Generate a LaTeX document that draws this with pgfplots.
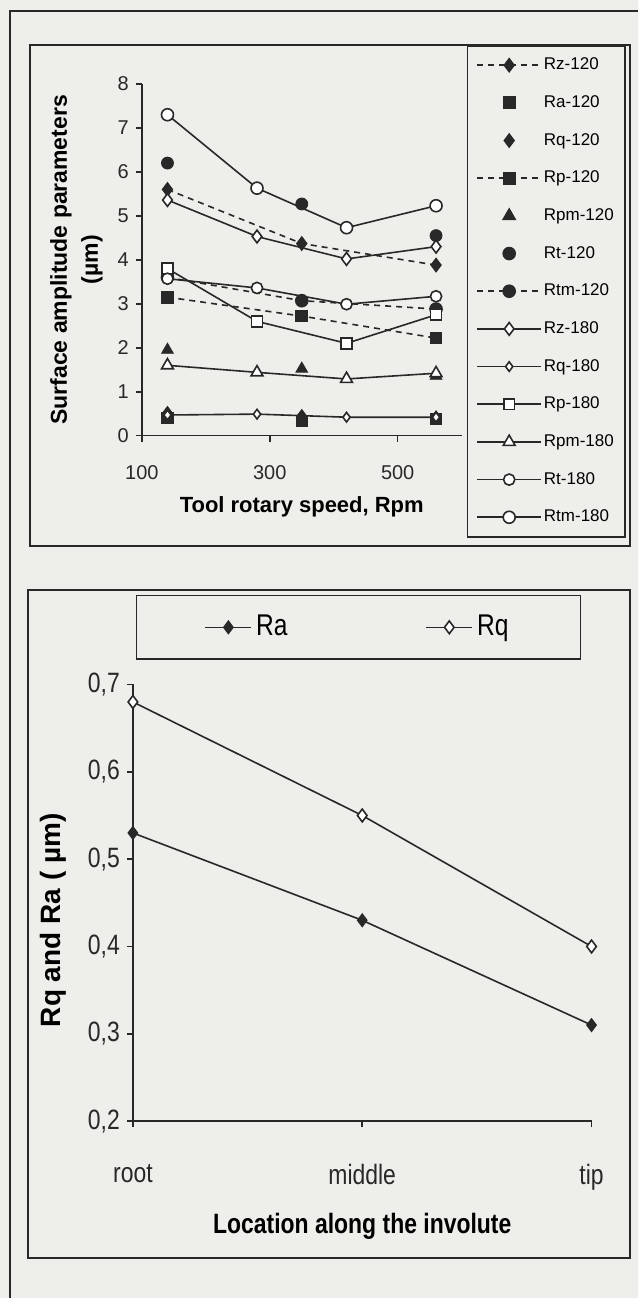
\documentclass[border=0pt]{standalone}
\usepackage{fontspec}
\setmainfont{Liberation Sans}
\newfontfamily\narrow[FakeStretch=0.82]{Liberation Sans}
\usepackage{pgfplots}
\pgfplotsset{compat=1.18}
\definecolor{paper}{RGB}{238,238,235}
\definecolor{ink}{RGB}{40,40,40}

% line styles of the two speed groups
\pgfplotsset{
  d120/.style={ink, line width=0.8pt, dash pattern=on 3pt off 2.5pt},
  s180/.style={ink, line width=0.8pt, solid},
}

\begin{document}
\begin{tikzpicture}
% paper and panel frames (1 px of the scan = 0.5pt)
\begin{scope}[x=0.5pt,y=-0.5pt]
\fill[paper] (0,0) rectangle (638,1299);
\draw[ink,line width=1pt] (10,1299) -- (10,11) -- (638,11);
\draw[ink,line width=1pt] (30,45) rectangle (630,546);
\draw[ink,line width=1pt] (28,590) rectangle (630,1259);
\end{scope}

% ---- top panel ----
\begin{axis}[
  at={(71pt,-218pt)}, anchor=south west,
  scale only axis, width=160pt, height=176pt,
  xmin=100, xmax=600, ymin=0, ymax=8,
  xtick={100,300,500}, ytick={0,1,2,3,4,5,6,7,8},
  axis x line=bottom, axis y line=left,
  axis line style={-, ink, line width=0.8pt},
  tick align=outside, major tick length=3pt,
  tick style={ink, line width=0.8pt},
  ticklabel style={font=\fontsize{10}{12}\selectfont, text=ink},
  xticklabel style={yshift=-8.5pt},
  /pgf/number format/assume math mode=true,
  xlabel={Tool rotary speed, Rpm},
  xlabel style={at={(axis description cs:0.5,0)}, anchor=center, yshift=-35.5pt,
    font=\bfseries\fontsize{11}{13}\selectfont},
  ylabel={Surface amplitude parameters\\(µm)},
  ylabel style={at={(axis description cs:-0.205,0.5)}, anchor=center, align=center,
    font=\bfseries\fontsize{11.5}{15.5}\selectfont},
  legend cell align=left,
  legend image code/.code={\draw[mark repeat=2,mark phase=2,#1]
    plot coordinates {(0pt,0pt) (16pt,0pt) (32pt,0pt)};},
  legend style={at={(axis description cs:1.0156,1.111)}, anchor=north west,
    draw=ink, line width=0.8pt, fill=none, font=\fontsize{8.5}{10}\selectfont,
    inner xsep=4.5pt, inner ysep=4.6pt, row sep=8.55pt,
    nodes={inner sep=1pt, text height=6.5pt, text depth=1.8pt}},
]
\addplot[d120, mark=diamond*, mark size=3.2pt, mark options={solid, fill=ink}]
  coordinates {(140,5.6) (350,4.37) (560,3.88)};
\addlegendentry{Rz-120}
\addplot[only marks, ink, mark=square*, mark size=2.8pt]
  coordinates {(140,0.4) (350,0.33) (560,0.38)};
\addlegendentry{Ra-120}
\addplot[only marks, ink, mark=diamond*, mark size=3.2pt]
  coordinates {(140,0.52) (350,0.45) (560,0.42)};
\addlegendentry{Rq-120}
\addplot[d120, mark=square*, mark size=2.8pt, mark options={solid, fill=ink}]
  coordinates {(140,3.15) (350,2.72) (560,2.22)};
\addlegendentry{Rp-120}
\addplot[only marks, ink, mark=triangle*, mark size=3.4pt]
  coordinates {(140,1.95) (350,1.52) (560,1.36)};
\addlegendentry{Rpm-120}
\addplot[only marks, ink, mark=*, mark size=3pt]
  coordinates {(140,6.2) (350,5.27) (560,4.55)};
\addlegendentry{Rt-120}
\addplot[d120, mark=*, mark size=3pt, mark options={solid, fill=ink}]
  coordinates {(140,3.6) (350,3.07) (560,2.88)};
\addlegendentry{Rtm-120}
\addplot[s180, mark=diamond*, mark size=3.2pt, mark options={fill=white}]
  coordinates {(140,5.36) (280,4.53) (420,4.02) (560,4.3)};
\addlegendentry{Rz-180}
\addplot[s180, mark=diamond*, mark size=2.4pt, mark options={fill=white}]
  coordinates {(140,0.47) (280,0.49) (420,0.42) (560,0.42)};
\addlegendentry{Rq-180}
\addplot[s180, mark=square*, mark size=2.7pt, mark options={fill=white}]
  coordinates {(140,3.8) (280,2.6) (420,2.1) (560,2.75)};
\addlegendentry{Rp-180}
\addplot[s180, mark=triangle*, mark size=3.4pt, mark options={fill=white}]
  coordinates {(140,1.6) (280,1.44) (420,1.29) (560,1.42)};
\addlegendentry{Rpm-180}
\addplot[s180, mark=*, mark size=2.8pt, mark options={fill=white}]
  coordinates {(140,3.57) (280,3.36) (420,2.99) (560,3.17)};
\addlegendentry{Rt-180}
\addplot[s180, mark=*, mark size=3pt, mark options={fill=white}]
  coordinates {(140,7.3) (280,5.63) (420,4.73) (560,5.23)};
\addlegendentry{Rtm-180}
\end{axis}

% ---- bottom panel ----
\begin{axis}[
  at={(66.5pt,-561pt)}, anchor=south west,
  scale only axis, width=229.5pt, height=218.5pt,
  xmin=0, xmax=2, ymin=0.2, ymax=0.7, clip=false,
  xtick={0,1,2}, xticklabels={root,middle,tip},
  ytick={0.2,0.3,0.4,0.5,0.6,0.7},
  axis x line=bottom, axis y line=left,
  axis line style={-, ink, line width=0.8pt},
  tick align=outside, major tick length=3pt,
  tick style={ink, line width=0.8pt},
  ticklabel style={font=\narrow\fontsize{14}{16}\selectfont, text=ink},
  xticklabel style={yshift=-15pt},
  /pgf/number format/assume math mode=true,
  /pgf/number format/fixed, /pgf/number format/fixed zerofill,
  /pgf/number format/precision=1, /pgf/number format/use comma,
  xlabel={Location along the involute},
  xlabel style={at={(axis description cs:0.5,0)}, anchor=center, yshift=-52.5pt,
    font=\narrow\bfseries\fontsize{14}{16}\selectfont},
  ylabel={Rq and Ra ( µm)},
  ylabel style={at={(axis description cs:-0.174,0.46)}, anchor=center,
    font=\bfseries\fontsize{14}{16}\selectfont},
  legend columns=2,
  legend image code/.code={\draw[mark repeat=2,mark phase=2,#1]
    plot coordinates {(0pt,0pt) (11.5pt,0pt) (23pt,0pt)};},
  legend style={at={(axis description cs:0.0065,1.206)}, anchor=north west,
    draw=ink, line width=0.8pt, fill=none, font=\narrow\fontsize{15}{17}\selectfont,
    inner xsep=34pt, inner ysep=7pt,
    nodes={inner sep=2pt, text height=11pt, text depth=3pt},
    /tikz/every even column/.append style={column sep=67pt}},
]
\addplot[s180, mark=diamond*, mark size=3pt, mark options={fill=ink}]
  coordinates {(0,0.53) (1,0.43) (2,0.31)};
\addlegendentry{Ra}
\addplot[s180, mark=diamond*, mark size=3.2pt, mark options={fill=white}]
  coordinates {(0,0.68) (1,0.55) (2,0.40)};
\addlegendentry{Rq}
\end{axis}
\end{tikzpicture}
\end{document}
